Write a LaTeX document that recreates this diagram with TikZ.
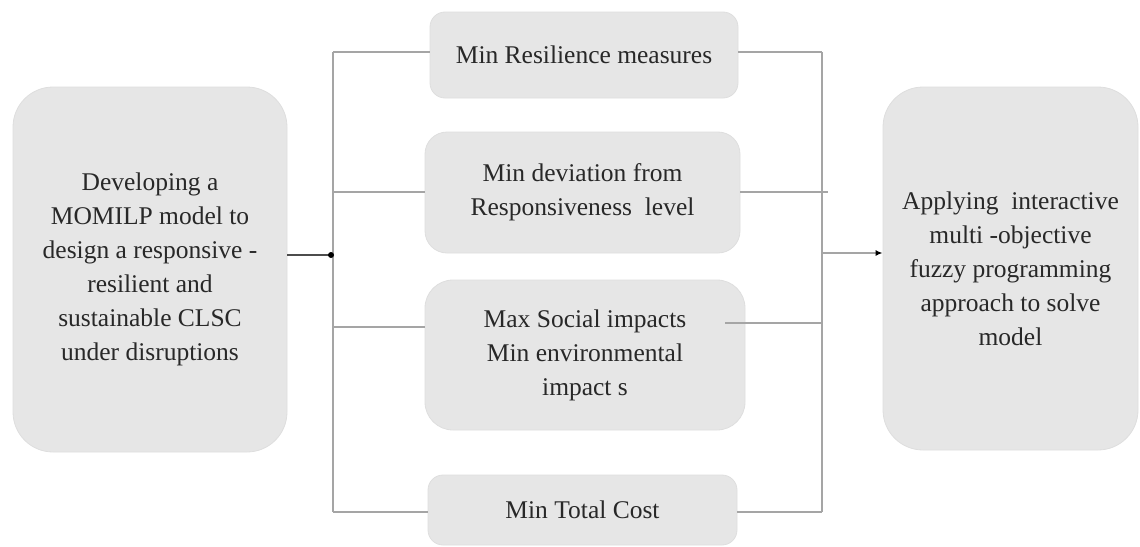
\documentclass[tikz,border=0pt]{standalone}
\usepackage{fontspec}
\setmainfont{Liberation Serif}
\usetikzlibrary{arrows.meta}
\definecolor{boxfill}{RGB}{230,230,230}
\definecolor{boxedge}{RGB}{222,222,222}
\definecolor{linegray}{RGB}{165,165,165}
\definecolor{txt}{RGB}{40,40,40}
\begin{document}
\begin{tikzpicture}[x=1pt,y=-1pt,
  box/.style={fill=boxfill, draw=boxedge, line width=0.8pt, rounded corners=#1,
    align=center, text=txt, font=\fontsize{25.5}{34}\selectfont, inner sep=0pt},
  box/.default=20pt,
  conn/.style={draw=linegray, line width=1.6pt},
  feed/.style={draw=black!70, line width=1.5pt}]
\useasboundingbox (0,0) rectangle (1140,546);
\node[box=40pt, minimum width=274pt, minimum height=365pt] (L) at (150,269.5)
  {Developing a\\MOMILP model to\\design a responsive -\\resilient and\\sustainable CLSC\\under disruptions};
\node[box=40pt, minimum width=255pt, minimum height=363pt] (R) at (1010.5,268.5)
  {Applying\ \ interactive\\multi -objective\\fuzzy programming\\approach to solve\\model};
\node[box=15pt, minimum width=308pt, minimum height=86pt] (B1) at (584,55)
  {Min Resilience measures};
\node[box=22pt, minimum width=315pt, minimum height=121pt] (B2) at (582.5,192.5)
  {Min deviation from\\Responsiveness\ \ level};
\node[box=28pt, minimum width=320pt, minimum height=150pt] (B3) at (585,355)
  {Max Social impacts\\Min environmental\\impact s};
\node[box=15pt, minimum width=309pt, minimum height=70pt] (B4) at (582.5,510)
  {Min Total Cost};
\coordinate (dot) at (331,255);
\coordinate (lt) at (333,52);
\coordinate (l2) at (333,192);
\coordinate (l3) at (333,327);
\coordinate (lb) at (333,512);
\coordinate (rt) at (822,52);
\coordinate (r2) at (828,192);
\coordinate (r3) at (822,323);
\coordinate (rb) at (822,512);
\coordinate (am) at (822,253);
\draw[conn] (lt) -- (lb);
\draw[conn] (rt) -- (rb);
\draw[conn] (lt) -- (lt -| B1.west);
\draw[conn] (B1.east |- rt) -- (rt);
\draw[conn] (l2) -- (l2 -| B2.west);
\draw[conn] (B2.east |- r2) -- (r2);
\draw[conn] (l3) -- (l3 -| B3.west);
\draw[conn] ([xshift=-20pt]B3.east |- r3) -- (r3);
\draw[conn] (lb) -- (lb -| B4.west);
\draw[conn] (B4.east |- rb) -- (rb);
\draw[feed] (L.east |- dot) -- (dot);
\fill[black] (dot) circle (3pt);
\draw[conn, -{Latex[length=7pt,width=6pt,color=black]}] (am) -- (am -| R.west);
\end{tikzpicture}
\end{document}
